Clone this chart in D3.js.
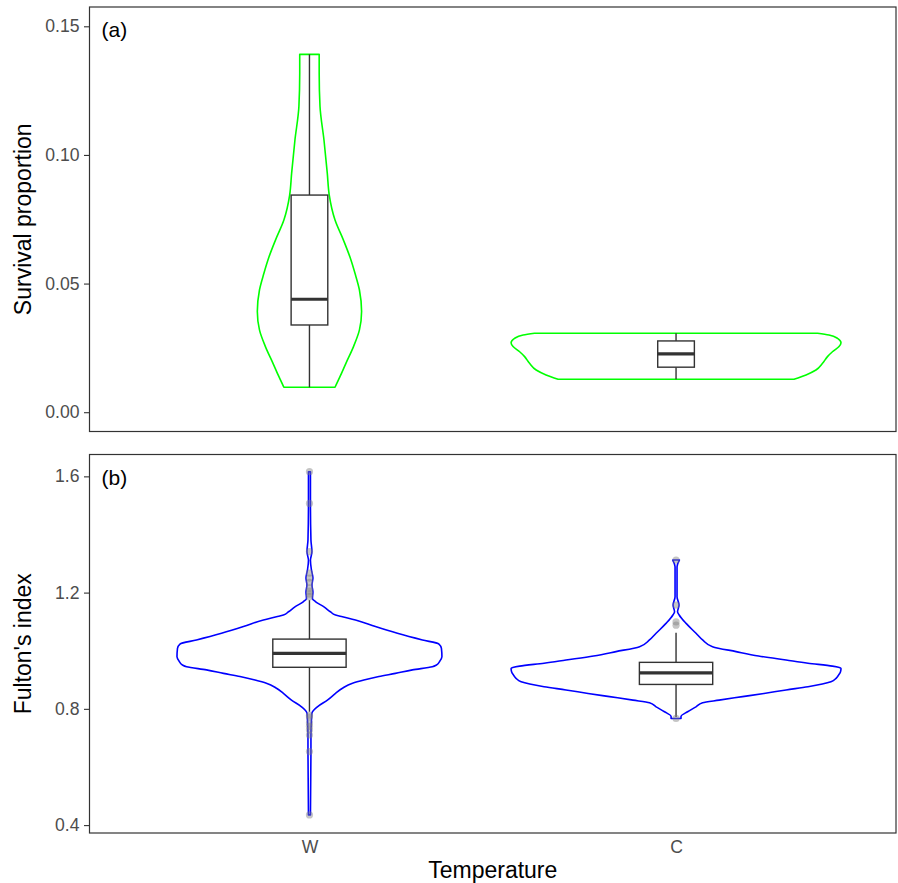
<!DOCTYPE html>
<html>
<head>
<meta charset="utf-8">
<script src="https://cdn.jsdelivr.net/npm/d3@7"></script>
<style>
  html, body { margin: 0; padding: 0; background: #ffffff; }
  svg { display: block; font-family: "Liberation Sans", Arial, Helvetica, sans-serif; }
</style>
</head>
<body>
<svg id="chart" width="898" height="883"></svg>
<script>
// ---------------- data ----------------
const categories = ["W", "C"];
const panelLabels = ["(a)", "(b)"];
const yTitles = ["Survival proportion", "Fulton's index"];
const xTitle = "Temperature";
const yTicksA = [0, 0.05, 0.10, 0.15];
const yTicksB = [0.4, 0.8, 1.2, 1.6];
const yDomainA = [-0.0075, 0.1575];
const yDomainB = [0.3728, 1.6752];

// violin density profiles: [value, relative density (1 = widest violin in the panel)]
const survivalViolinW = [[0.0097,0.155],[0.0138,0.185],[0.0190,0.221],[0.0255,0.267],[0.0320,0.303],[0.0391,0.316],[0.0475,0.303],[0.0540,0.276],[0.0604,0.245],[0.0669,0.206],[0.0747,0.155],[0.0844,0.120],[0.0929,0.108],[0.1058,0.088],[0.1188,0.064],[0.1317,0.059],[0.1391,0.059]];
const survivalViolinC = [[0.0128,0.715],[0.0145,0.788],[0.0164,0.848],[0.0190,0.888],[0.0216,0.918],[0.0235,0.948],[0.0255,0.988],[0.0270,1.0],[0.0287,0.979],[0.0300,0.927],[0.0307,0.858]];
const fultonViolinW = [[0.435,0.006],[0.653,0.009],[0.710,0.009],[0.762,0.012],[0.785,0.015],[0.807,0.048],[0.830,0.109],[0.853,0.158],[0.871,0.2],[0.888,0.261],[0.899,0.330],[0.911,0.421],[0.922,0.521],[0.934,0.624],[0.945,0.745],[0.951,0.770],[0.962,0.788],[0.979,0.803],[1.008,0.8],[1.023,0.785],[1.037,0.685],[1.060,0.533],[1.083,0.4],[1.106,0.279],[1.117,0.2],[1.123,0.158],[1.134,0.127],[1.151,0.088],[1.169,0.036],[1.180,0.018],[1.202,0.021],[1.226,0.015],[1.250,0.021],[1.278,0.012],[1.311,0.006],[1.341,0.015],[1.381,0.009],[1.507,0.006],[1.616,0.006]];
const fultonViolinC = [[0.767,0.03],[0.774,0.03],[0.790,0.07],[0.807,0.121],[0.821,0.161],[0.830,0.261],[0.842,0.403],[0.853,0.533],[0.865,0.667],[0.876,0.8],[0.893,0.939],[0.905,0.97],[0.916,0.985],[0.928,0.997],[0.939,1.0],[0.947,0.948],[0.957,0.8],[0.968,0.667],[0.982,0.5],[0.997,0.364],[1.014,0.221],[1.037,0.161],[1.060,0.121],[1.094,0.061],[1.123,0.019],[1.134,0.009],[1.157,0.018],[1.186,0.006],[1.289,0.006],[1.312,0.02]];

// box statistics: [lower whisker, Q1, median, Q3, upper whisker]
const survivalStatsW = [0.0097, 0.0339, 0.0439, 0.0844, 0.1391];
const survivalStatsC = [0.0128, 0.0175, 0.0227, 0.0277, 0.0307];
const fultonStatsW = [0.790, 0.943, 0.991, 1.040, 1.174];
const fultonStatsC = [0.772, 0.884, 0.924, 0.960, 1.062];

// outliers
const fultonOutliersW = [1.616, 1.507, 1.341, 1.267, 1.250, 1.235, 1.216, 1.205, 1.195, 1.186, 0.778, 0.772, 0.751, 0.740, 0.727, 0.710, 0.653, 0.435];
const fultonOutliersC = [1.312, 1.157, 1.099, 1.088, 0.767];

// ---------------- drawing ----------------
const svg = d3.select("#chart");
const left = 89.5, right = 896;
const panels = [
  { top: 7, bottom: 431.5, domain: yDomainA, ticks: yTicksA, fmt: d3.format(".2f"),
    violins: [survivalViolinW, survivalViolinC], stats: [survivalStatsW, survivalStatsC],
    outliers: [[], []], color: "#00FF00", boxWidth: 0.1, label: panelLabels[0], title: yTitles[0] },
  { top: 454.5, bottom: 833, domain: yDomainB, ticks: yTicksB, fmt: d3.format(".1f"),
    violins: [fultonViolinW, fultonViolinC], stats: [fultonStatsW, fultonStatsC],
    outliers: [fultonOutliersW, fultonOutliersC], color: "#0000FF", boxWidth: 0.2, label: panelLabels[1], title: yTitles[1] }
];

const x = d3.scalePoint().domain(categories).range([left, right]).padding(0.6);
const step = x.step();

panels.forEach((p, pi) => {
  const y = d3.scaleLinear().domain(p.domain).range([p.bottom, p.top]);
  const g = svg.append("g");

  // violins
  const maxHalf = 0.45 * step;
  p.violins.forEach((prof, i) => {
    const cx = x(categories[i]);
    const area = d3.area()
      .y(d => y(d[0]))
      .x0(d => cx - d[1] * maxHalf)
      .x1(d => cx + d[1] * maxHalf)
      .curve(d3.curveMonotoneY);
    g.append("path")
      .attr("d", area(prof))
      .attr("fill", "none")
      .attr("stroke", p.color)
      .attr("stroke-width", 1.6)
      .attr("stroke-linejoin", "round");
  });

  // boxes
  p.stats.forEach((s, i) => {
    const cx = x(categories[i]);
    const hw = p.boxWidth * step / 2;
    const bg = g.append("g").attr("stroke", "#333333").attr("stroke-width", 1.4);
    bg.append("line").attr("x1", cx).attr("x2", cx).attr("y1", y(s[3])).attr("y2", y(s[4]));
    bg.append("line").attr("x1", cx).attr("x2", cx).attr("y1", y(s[1])).attr("y2", y(s[0]));
    bg.append("rect")
      .attr("x", cx - hw).attr("width", 2 * hw)
      .attr("y", y(s[3])).attr("height", y(s[1]) - y(s[3]))
      .attr("fill", "#ffffff");
    bg.append("line").attr("x1", cx - hw).attr("x2", cx + hw)
      .attr("y1", y(s[2])).attr("y2", y(s[2])).attr("stroke-width", 3.2);
  });

  // outliers
  p.outliers.forEach((arr, i) => {
    const cx = x(categories[i]);
    g.selectAll(null).data(arr).enter().append("circle")
      .attr("cx", cx).attr("cy", d => y(d)).attr("r", 3.6)
      .attr("fill", "#7f7f7f").attr("fill-opacity", 0.45);
  });

  // frame
  svg.append("rect")
    .attr("x", left).attr("y", p.top)
    .attr("width", right - left).attr("height", p.bottom - p.top)
    .attr("fill", "none").attr("stroke", "#333333").attr("stroke-width", 1.2);

  // y axis
  const ax = svg.append("g").attr("transform", `translate(${left},0)`)
    .call(d3.axisLeft(y).tickValues(p.ticks).tickFormat(p.fmt).tickSize(5.5).tickPadding(4.5));
  ax.select(".domain").remove();
  ax.selectAll(".tick line").attr("stroke", "#333333").attr("stroke-width", 1.1);
  ax.selectAll(".tick text").attr("fill", "#4D4D4D").style("font-size", "17.6px")
    .style("font-family", "'Liberation Sans', Arial, sans-serif");

  // panel label
  svg.append("text").attr("x", left + 12).attr("y", p.top + 30)
    .style("font-size", "21px").attr("fill", "#000").text(p.label);

  // y title
  svg.append("text")
    .attr("transform", `translate(31,${(p.top + p.bottom) / 2}) rotate(-90)`)
    .attr("text-anchor", "middle").style("font-size", "23px").attr("fill", "#000")
    .text(p.title);
});

// x axis (bottom panel only)
const xa = svg.append("g").attr("transform", `translate(0,833)`)
  .call(d3.axisBottom(x).tickSize(0).tickPadding(7.5));
xa.select(".domain").remove();
xa.selectAll(".tick text").attr("fill", "#4D4D4D").style("font-size", "17.6px")
  .style("font-family", "'Liberation Sans', Arial, sans-serif");

svg.append("text").attr("x", (left + right) / 2).attr("y", 878)
  .attr("text-anchor", "middle").style("font-size", "23px").attr("fill", "#000")
  .text(xTitle);
</script>
</body>
</html>
